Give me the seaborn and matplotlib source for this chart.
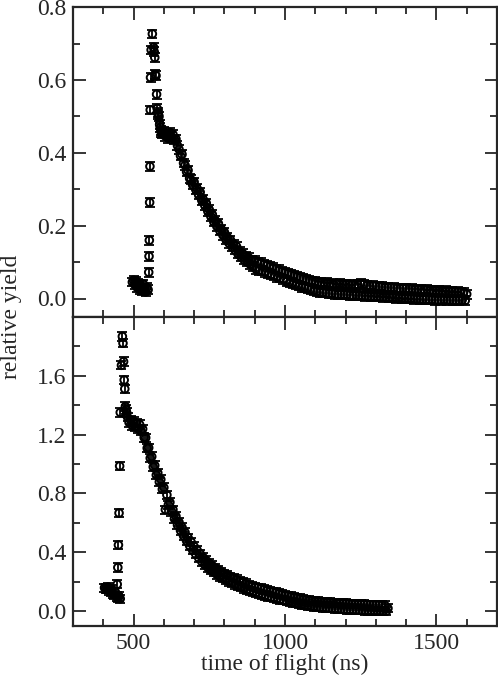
import pandas as pd
import matplotlib
matplotlib.use("Agg")
import matplotlib.pyplot as plt
import seaborn as sns
from matplotlib.ticker import MultipleLocator, FixedLocator

# upper detector: time of flight (ns) and relative yield
top_time = [
    496, 500, 504, 508, 512, 516, 520, 524, 528, 532, 536, 540, 544, 548,
    550, 551, 552, 553, 554, 555, 556, 558, 562, 566, 568, 570, 572, 574,
    576, 578, 580, 582, 584, 586, 588, 590, 592, 594,
    600, 605, 610, 615, 620, 625, 630, 635, 640, 645, 650, 655, 660, 665, 670, 675, 680, 685, 690, 695,
    700, 705, 710, 715, 720, 725, 730, 735, 740, 745, 750, 755, 760, 765, 770, 775, 780, 785, 790, 795,
    800, 805, 810, 815, 820, 825, 830, 835, 840, 845, 850, 855, 860, 865, 870, 875, 880, 885, 890, 895,
    900, 905, 910, 915, 920, 925, 930, 935, 940, 945, 950, 955, 960, 965, 970, 975, 980, 985, 990, 995,
    1000, 1005, 1010, 1015, 1020, 1025, 1030, 1035, 1040, 1045, 1050, 1055, 1060, 1065, 1070, 1075, 1080, 1085, 1090, 1095,
    1100, 1105, 1110, 1115, 1120, 1125, 1130, 1135, 1140, 1145, 1150, 1155, 1160, 1165, 1170, 1175, 1180, 1185, 1190, 1195,
    1200, 1205, 1210, 1215, 1220, 1225, 1230, 1235, 1240, 1245, 1250, 1255, 1260, 1265, 1270, 1275, 1280, 1285, 1290, 1295,
    1300, 1305, 1310, 1315, 1320, 1325, 1330, 1335, 1340, 1345, 1350, 1355, 1360, 1365, 1370, 1375, 1380, 1385, 1390, 1395,
    1400, 1405, 1410, 1415, 1420, 1425, 1430, 1435, 1440, 1445, 1450, 1455, 1460, 1465, 1470, 1475, 1480, 1485, 1490, 1495,
    1500, 1505, 1510, 1515, 1520, 1525, 1530, 1535, 1540, 1545, 1550, 1555, 1560, 1565, 1570, 1575, 1580, 1585, 1590, 1595,
    1600,
]
top_yield = [
    0.045, 0.050, 0.038, 0.048, 0.030, 0.042, 0.025, 0.035, 0.022, 0.040, 0.028, 0.018, 0.030, 0.024,
    0.072, 0.116, 0.160, 0.264, 0.363, 0.518, 0.607, 0.683, 0.727, 0.690, 0.678, 0.662, 0.615, 0.612,
    0.561, 0.522, 0.510, 0.505, 0.500, 0.478, 0.470, 0.462, 0.455, 0.452,
    0.458, 0.446, 0.452, 0.440, 0.456, 0.445, 0.451, 0.437, 0.438, 0.420, 0.410, 0.392, 0.396, 0.372, 0.366, 0.348, 0.352, 0.330, 0.326, 0.312,
    0.320, 0.300, 0.302, 0.284, 0.292, 0.270, 0.272, 0.256, 0.262, 0.240, 0.244, 0.226, 0.231, 0.210, 0.214, 0.198, 0.206, 0.186, 0.190, 0.174,
    0.182, 0.162, 0.168, 0.152, 0.161, 0.142, 0.150, 0.133, 0.143, 0.122, 0.130, 0.114, 0.124, 0.106, 0.117, 0.100, 0.112, 0.094, 0.104, 0.087,
    0.105, 0.080, 0.099, 0.077, 0.099, 0.076, 0.094, 0.072, 0.092, 0.069, 0.087, 0.065, 0.085, 0.062, 0.081, 0.058, 0.079, 0.056, 0.075, 0.052,
    0.073, 0.046, 0.069, 0.043, 0.067, 0.040, 0.063, 0.037, 0.061, 0.034, 0.058, 0.031, 0.055, 0.029, 0.053, 0.027, 0.051, 0.024, 0.048, 0.021,
    0.047, 0.018, 0.045, 0.017, 0.044, 0.016, 0.042, 0.015, 0.044, 0.013, 0.040, 0.014, 0.041, 0.012, 0.039, 0.011, 0.042, 0.012, 0.038, 0.010,
    0.040, 0.011, 0.037, 0.009, 0.039, 0.008, 0.036, 0.010, 0.038, 0.007, 0.041, 0.008, 0.039, 0.006, 0.035, 0.007, 0.034, 0.005, 0.036, 0.006,
    0.034, 0.004, 0.032, 0.005, 0.033, 0.003, 0.030, 0.004, 0.031, 0.002, 0.029, 0.003, 0.030, 0.001, 0.028, 0.002, 0.027, 0.000, 0.029, 0.001,
    0.028, -0.001, 0.026, 0.000, 0.027, -0.002, 0.025, -0.001, 0.026, -0.003, 0.024, -0.002, 0.023, -0.003, 0.025, -0.004, 0.022, -0.003, 0.023, -0.005,
    0.021, -0.004, 0.022, -0.005, 0.020, -0.003, 0.021, -0.006, 0.019, -0.004, 0.020, -0.006, 0.018, -0.005, 0.019, -0.006, 0.017, -0.004, 0.018, -0.006,
    0.012,
]

# lower detector
bottom_time = [
    404, 408, 412, 416, 420, 424, 428, 432, 436, 440, 444, 448, 452, 456,
    446, 448, 450, 452, 454, 456, 460, 463, 465, 467, 469, 471, 473, 475, 477,
    480, 485, 490, 495, 500, 505, 510, 515, 520, 525, 530, 535, 540, 545, 550, 555, 560, 565, 570, 575,
    580, 585, 590, 595, 600, 605, 610, 615, 620, 625, 630, 635, 640, 645, 650, 655, 660, 665, 670, 675,
    680, 685, 690, 695, 700, 705, 710, 715, 720, 725, 730, 735, 740, 745, 750, 755, 760, 765, 770, 775,
    780, 785, 790, 795, 800, 805, 810, 815, 820, 825, 830, 835, 840, 845, 850, 855, 860, 865, 870, 875,
    880, 885, 890, 895, 900, 905, 910, 915, 920, 925, 930, 935, 940, 945, 950, 955, 960, 965, 970, 975,
    980, 985, 990, 995, 1000, 1005, 1010, 1015, 1020, 1025, 1030, 1035, 1040, 1045, 1050, 1055, 1060, 1065, 1070, 1075,
    1080, 1085, 1090, 1095, 1100, 1105, 1110, 1115, 1120, 1125, 1130, 1135, 1140, 1145, 1150, 1155, 1160, 1165, 1170, 1175,
    1180, 1185, 1190, 1195, 1200, 1205, 1210, 1215, 1220, 1225, 1230, 1235, 1240, 1245, 1250, 1255, 1260, 1265, 1270, 1275,
    1280, 1285, 1290, 1295, 1300, 1305, 1310, 1315, 1320, 1325, 1330, 1335, 1340,
]
bottom_yield = [
    0.160, 0.155, 0.150, 0.165, 0.140, 0.130, 0.150, 0.120, 0.110, 0.130, 0.100, 0.090, 0.100, 0.085,
    0.183, 0.297, 0.450, 0.667, 0.986, 1.350, 1.670, 1.866, 1.820, 1.695, 1.570, 1.510, 1.390, 1.370, 1.350,
    1.318, 1.282, 1.298, 1.262, 1.290, 1.252, 1.278, 1.240, 1.268, 1.222, 1.238, 1.180, 1.178, 1.108, 1.110, 1.040, 1.050, 0.980, 0.990, 0.925,
    0.940, 0.878, 0.895, 0.828, 0.840, 0.690, 0.790, 0.724, 0.740, 0.678, 0.690, 0.628, 0.645, 0.585, 0.605, 0.548, 0.570, 0.512, 0.535, 0.478,
    0.500, 0.445, 0.470, 0.415, 0.440, 0.388, 0.415, 0.362, 0.390, 0.338, 0.365, 0.316, 0.345, 0.297, 0.325, 0.280, 0.310, 0.265, 0.295, 0.250,
    0.280, 0.236, 0.267, 0.224, 0.255, 0.212, 0.245, 0.202, 0.235, 0.192, 0.225, 0.182, 0.215, 0.172, 0.205, 0.163, 0.196, 0.154, 0.188, 0.146,
    0.180, 0.139, 0.173, 0.132, 0.166, 0.125, 0.160, 0.119, 0.154, 0.113, 0.148, 0.107, 0.142, 0.101, 0.137, 0.096, 0.132, 0.091, 0.127, 0.085,
    0.120, 0.079, 0.115, 0.074, 0.110, 0.069, 0.105, 0.064, 0.100, 0.059, 0.095, 0.054, 0.090, 0.050, 0.086, 0.046, 0.082, 0.042, 0.078, 0.038,
    0.074, 0.035, 0.071, 0.032, 0.068, 0.029, 0.066, 0.027, 0.064, 0.025, 0.062, 0.023, 0.060, 0.021, 0.059, 0.020, 0.057, 0.018, 0.055, 0.016,
    0.054, 0.015, 0.053, 0.013, 0.052, 0.012, 0.050, 0.011, 0.049, 0.010, 0.048, 0.009, 0.047, 0.008, 0.047, 0.007, 0.046, 0.006, 0.045, 0.005,
    0.044, 0.004, 0.043, 0.003, 0.043, 0.003, 0.042, 0.002, 0.041, 0.001, 0.040, 0.001, 0.020,
]

top_err = 0.012
bottom_err = 0.028

sns.set_style("ticks")
plt.rcParams['font.family'] = ['Liberation Serif', 'DejaVu Serif']

W, H = 498, 676
fig = plt.figure(figsize=(W / 100, H / 100), dpi=100)
left, right = 73, 497
top_y0, mid_y, bot_y = 7.3, 316.7, 626
ax_top = fig.add_axes([left / W, 1 - mid_y / H, (right - left) / W, (mid_y - top_y0) / H])
ax_bot = fig.add_axes([left / W, 1 - bot_y / H, (right - left) / W, (bot_y - mid_y) / H])

panels = [
    (ax_top, top_time, top_yield, top_err, (-0.05, 0.8), [0.0, 0.2, 0.4, 0.6, 0.8], 0.1),
    (ax_bot, bottom_time, bottom_yield, bottom_err, (-0.1, 2.0), [0.0, 0.4, 0.8, 1.2, 1.6], 0.2),
]
for ax, t, y, err, ylim, majors, minor in panels:
    df = pd.DataFrame({"time": t, "yield": y})
    ax.errorbar(df["time"], df["yield"], yerr=err, fmt='none', ecolor='black',
                elinewidth=1.3, capsize=3.6, capthick=1.3, zorder=2)
    sns.scatterplot(data=df, x="time", y="yield", ax=ax, marker='o', s=30,
                    facecolor='none', edgecolor='black', linewidth=1.4, zorder=3)
    ax.set_xlim(300, 1700)
    ax.set_ylim(*ylim)
    ax.xaxis.set_major_locator(MultipleLocator(500))
    ax.xaxis.set_minor_locator(MultipleLocator(100))
    ax.yaxis.set_major_locator(FixedLocator(majors))
    ax.yaxis.set_minor_locator(MultipleLocator(minor))
    ax.tick_params(which='both', direction='in', top=True, right=True,
                   labelsize=17, width=1.3, pad=5)
    ax.tick_params(which='major', length=9)
    ax.tick_params(which='minor', length=5)
    for s in ax.spines.values():
        s.set_linewidth(1.6)
        s.set_visible(True)
    ax.set_xlabel("")
    ax.set_ylabel("")
    ax.yaxis.set_major_formatter(plt.FormatStrFormatter('%.1f'))

ax_top.tick_params(labelbottom=False)
ax_bot.set_xlabel("time of flight (ns)", fontsize=17, labelpad=0)
fig.text(11 / W, 1 - 317 / H, "relative yield", rotation=90, fontsize=17,
         ha='center', va='center')

fig.savefig("out.png", dpi=100)
